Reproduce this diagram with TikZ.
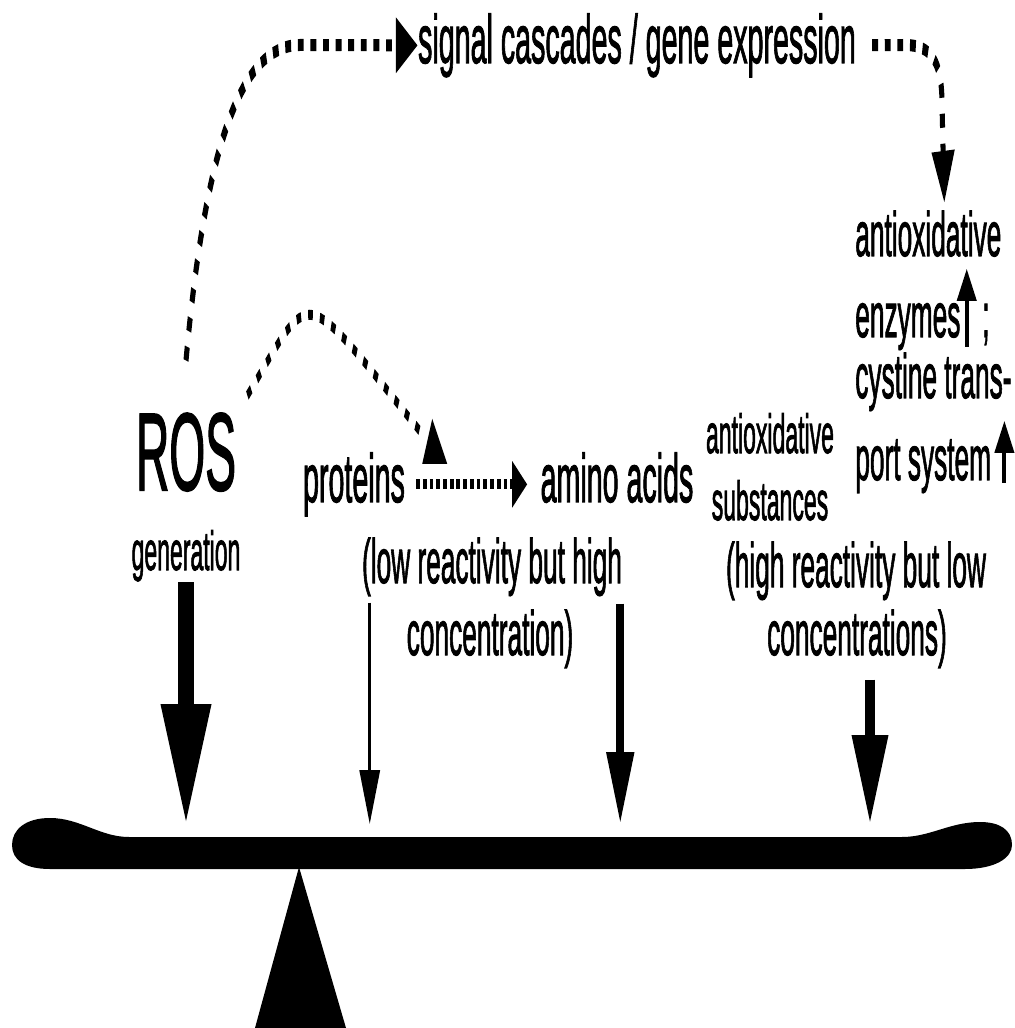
\documentclass[tikz,border=0pt]{standalone}
\usepackage{fontspec}
\setmainfont{Liberation Sans}[FakeBold=2]
\usetikzlibrary{arrows.meta,calc}

\begin{document}
\begin{tikzpicture}[x=0.1mm,y=-0.1mm,
  txt/.style={inner sep=0pt,anchor=base,font=\fontsize{19.4}{22}\selectfont},
  lbl/.style={inner sep=0pt,anchor=base,font=\fontsize{17.8}{20}\selectfont},
  sml/.style={inner sep=0pt,anchor=base,font=\fontsize{15.6}{18}\selectfont},
  dots/.style={line width=1.2mm,dash pattern=on 1.4mm off 1.6mm,-{Triangle[length=5.2mm,width=5.2mm]}},
  dots2/.style={line width=1.0mm,dash pattern=on 1.1mm off 1.7mm},
  dots3/.style={line width=1.0mm,dash pattern=on 0.9mm off 0.7mm,-{Triangle[length=3.6mm,width=4.4mm]}}]
\path[use as bounding box,fill=white] (0,0) rectangle (1014,1028);
\begin{scope}[transform canvas={xscale=0.42},x=0.2381mm]
% texts
\node[inner sep=0pt,anchor=base,font=\fontsize{31.3}{34}\selectfont] (ros) at (186,490) {ROS};
\node[sml] (gen) at (186,570) {generation};
\node[txt] (sig) at (637,63) {signal cascades / gene expression};
\node[txt] (prot) at (354,502) {proteins};
\node[txt] (amino) at (617,502) {amino acids};
\node[lbl] (low1) at (492,583) {(low reactivity but high};
\node[lbl] (low2) at (490,655) {concentration)};
\node[sml] (sub1) at (770,453) {antioxidative};
\node[sml] (sub2) at (770,520) {substances};
\node[lbl] (high1) at (856,587) {(high reactivity but low};
\node[lbl] (high2) at (857,655) {concentrations)};
\node[lbl,anchor=base west] (enz1) at (855,256) {antioxidative};
\node[lbl,anchor=base west] (enz2) at (855,337) {enzymes};
\node[lbl,anchor=base west] (semi) at (982,337) {;};
\node[lbl,anchor=base west] (cys1) at (855,398) {cystine trans-};
\node[lbl,anchor=base west] (cys2) at (855,480) {port system};
% beam and fulcrum
\fill (129,837) .. controls (100,837) and (80,818) .. (50,818) .. controls (25,818) and (12,830) .. (12,845)
  .. controls (12,860) and (25,869) .. (50,869) -- (965,869) .. controls (995,869) and (1012,858) .. (1012,845)
  .. controls (1012,830) and (1000,822) .. (980,822) .. controls (950,822) and (930,837) .. (902,837) -- cycle;
\fill (299,867) -- (346,1028) -- (255,1028) -- cycle;
\coordinate (top) at (0,824);
% weights
\draw[line width=3.8mm,-{Triangle[length=12mm,width=11.2mm]}] (gen.south) -- (gen.south |- top);
\draw[line width=0.7mm,-{Triangle[length=5.4mm,width=4.8mm]}] ($(low1.south west)+(8,6)$) coordinate (pw) -- (pw |- top);
\draw[line width=1.9mm,-{Triangle[length=7.2mm,width=6.2mm]}] ($(low1.south east)+(-2,7)$) coordinate (aw) -- (aw |- top);
\draw[line width=2.6mm,-{Triangle[length=8.9mm,width=8.1mm]}] ($(high2.south)+(13,11)$) coordinate (sw) -- (sw |- top);
% up arrows
\draw[line width=1.0mm,-{Triangle[length=3.2mm,width=4.6mm]}] ($(enz2.base east)+(6,10)$) -- ++(0,-78);
\draw[line width=1.0mm,-{Triangle[length=3.2mm,width=4.6mm]}] ($(cys2.base east)+(13,3)$) -- ++(0,-62);
% dotted connectors
\draw[dots] ([shift={(0,-52)}]ros.north) .. controls (205,150) and (240,45) .. (300,45) -- (sig.west);
\draw[dots,shorten <=3.8mm] (sig.east) -- (905,45) .. controls (932,45) and (942,62) .. (942,105) -- ([shift={(16,-7)}]enz1.north);
\draw[dots2] ([shift={(11,-17)}]ros.north east) .. controls (314,284) and (298,280) .. ([shift={(17,-18)}]prot.north east);
\fill ([shift={(27,-33)}]prot.north east) -- ++(15,45) -- ++(-25,0) -- cycle;
\draw[dots3,shorten <=2.6mm,shorten >=3.1mm] (prot.east) -- (prot.east -| amino.west);
\end{scope}
\end{tikzpicture}
\end{document}
